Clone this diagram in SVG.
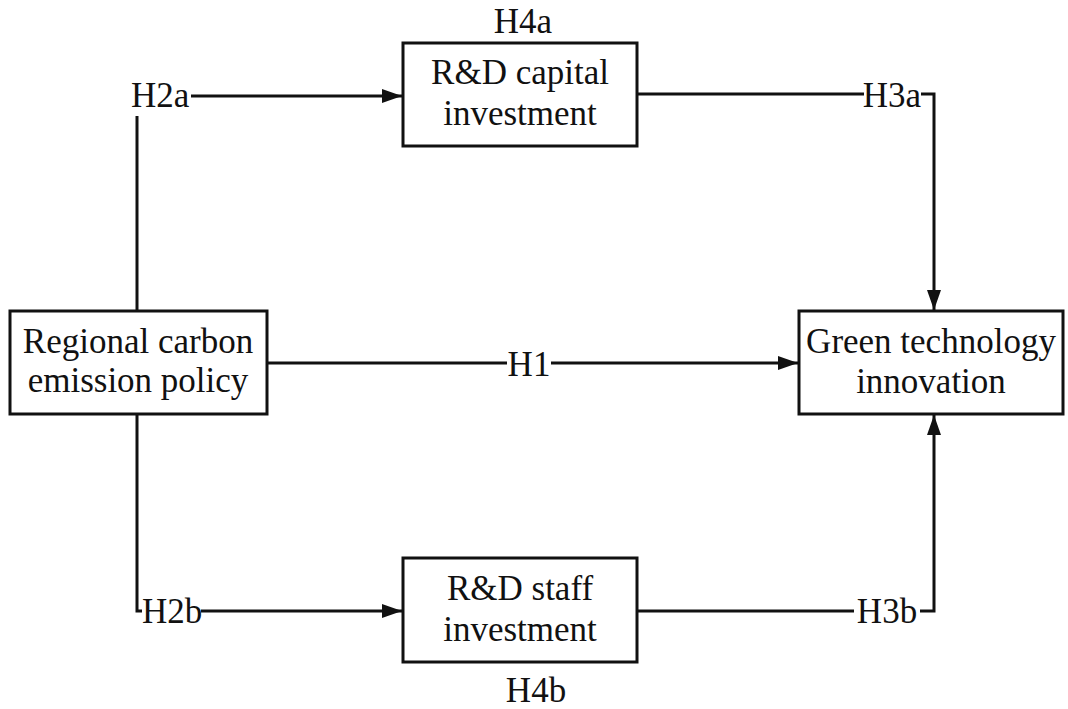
<svg xmlns="http://www.w3.org/2000/svg" width="1068" height="709" viewBox="0 0 1068 709">
<style>
.box{fill:#fff;stroke:#111;stroke-width:3}
.lbl{font-family:"Liberation Serif","Times New Roman",serif;font-size:35px;fill:#111;text-anchor:middle}
.hl{font-family:"Liberation Serif","Times New Roman",serif;font-size:35px;fill:#111}
.ln{fill:none;stroke:#111;stroke-width:3}
</style>
<defs>
<marker id="ah" markerWidth="20" markerHeight="14" refX="20" refY="7" orient="auto" markerUnits="userSpaceOnUse">
<path d="M0,0 L20,7 L0,14 Z" fill="#111"/>
</marker>
</defs>
<rect width="1068" height="709" fill="#fff"/>
<g id="connectors">
<path class="ln" d="M137,311 V116"/>
<path class="ln" d="M191,96 H402" marker-end="url(#ah)"/>
<path class="ln" d="M137,414 V611 H142"/>
<path class="ln" d="M201,611 H402" marker-end="url(#ah)"/>
<path class="ln" d="M267,363 H507"/>
<path class="ln" d="M551,363 H798" marker-end="url(#ah)"/>
<path class="ln" d="M637,94 H864"/>
<path class="ln" d="M921,94 H934 V310" marker-end="url(#ah)"/>
<path class="ln" d="M637,611 H854"/>
<path class="ln" d="M920,611 H934 V415" marker-end="url(#ah)"/>
<text class="hl" x="131" y="107">H2a</text>
<text class="hl" x="142" y="623">H2b</text>
<text class="lbl" x="529" y="376">H1</text>
<text class="lbl" x="892" y="107">H3a</text>
<text class="lbl" x="887" y="623">H3b</text>
</g>
<g id="regional">
<rect class="box" x="10" y="311" width="257" height="103"/>
<text class="lbl" x="138" y="353">Regional carbon</text>
<text class="lbl" x="138" y="392">emission policy</text>
</g>
<g id="capital">
<rect class="box" x="403" y="43" width="234" height="103"/>
<text class="lbl" x="520" y="84">R&amp;D capital</text>
<text class="lbl" x="520" y="125">investment</text>
<text class="lbl" x="523" y="33">H4a</text>
</g>
<g id="staff">
<rect class="box" x="403" y="558" width="234" height="104"/>
<text class="lbl" x="520" y="600">R&amp;D staff</text>
<text class="lbl" x="520" y="641">investment</text>
<text class="lbl" x="536" y="702">H4b</text>
</g>
<g id="green">
<rect class="box" x="799" y="311" width="264" height="103"/>
<text class="lbl" x="931" y="353">Green technology</text>
<text class="lbl" x="931" y="393">innovation</text>
</g>
</svg>
